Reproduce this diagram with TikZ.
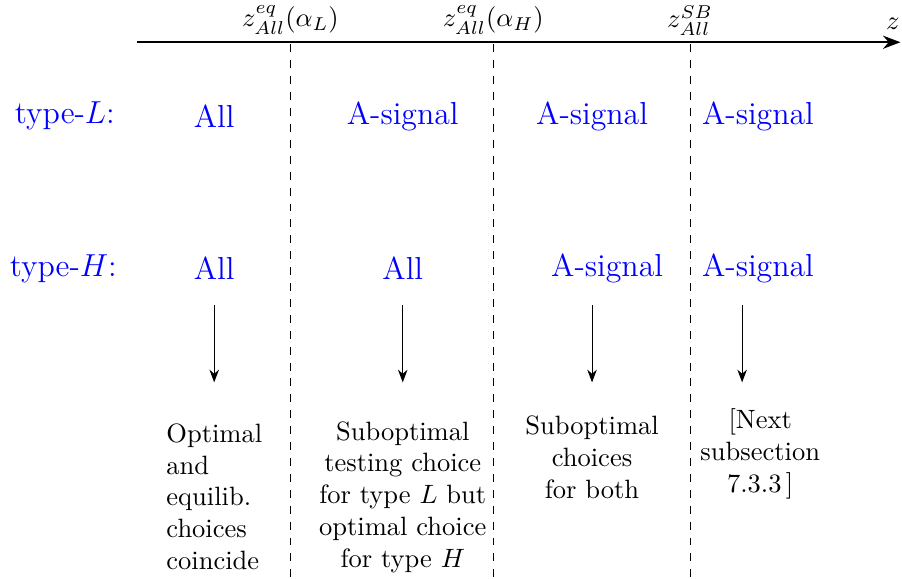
\documentclass[tikz,border=0pt]{standalone}
\usepackage{amsmath}
\usepackage{xcolor}
\usetikzlibrary{arrows.meta,positioning}
\tikzset{
 choice/.style={text=blue,font=\large},
 outcome/.style={anchor=north,align=center,inner sep=0pt},
}
\begin{document}
\begin{tikzpicture}[>=Stealth]
\useasboundingbox (0,0) rectangle (11.96,7.67);
% the axis and its cut-off points
\coordinate (zstart) at (1.82,7.11);
\coordinate (zend) at (11.94,7.11);
\draw[->,thick] (zstart) -- (zend);
\node (zlab) at (11.84,7.36) {$z$};
\foreach \x/\nm/\lbl in {3.85/cL/{z^{eq}_{All}(\alpha_L)},6.54/cH/{z^{eq}_{All}(\alpha_H)},9.15/cS/{z^{SB}_{All}}} {
 \node (\nm) at (\x,7.40) {$\lbl$};
 \coordinate (\nm top) at (\x,7.08);
 \coordinate (\nm bot) at (\x,0);
 \draw[dashed] (\nm top) -- (\nm bot);
}
% the two rows of testing choices
\node[choice] (typeL) at (0.86,6.13) {type-$L$:};
\node[choice] (typeH) at (0.84,4.11) {type-$H$:};
\node[choice] (l1) at (2.84,6.13) {All};
\node[choice] (l2) at (5.34,6.13) {A-signal};
\node[choice] (l3) at (7.85,6.13) {A-signal};
\node[choice] (l4) at (10.05,6.13) {A-signal};
\node[choice] (h1) at (2.84,4.11) {All};
\node[choice] (h2) at (5.34,4.11) {All};
\node[choice] (h3) at (8.05,4.11) {A-signal};
\node[choice] (h4) at (10.05,4.11) {A-signal};
% arrows down to the verdicts
\foreach \x/\nm in {2.84/a1,5.34/a2,7.85/a3,9.84/a4} {
 \coordinate (\nm top) at (\x,3.62);
 \coordinate (\nm bot) at (\x,2.60);
 \draw[->] (\nm top) -- (\nm bot);
}
\node[outcome,anchor=north west,align=left,text width=1.6cm] (o1) at (2.20,2.06) {Optimal and equilib. choices coincide};
\node[outcome,text width=2.3cm] (o2) at (5.34,2.09) {Suboptimal testing choice for type $L$ but optimal choice for type $H$};
\node[outcome,text width=1.9cm] (o3) at (7.85,2.16) {Suboptimal choices for both};
\node[outcome,text width=1.8cm] (o4) at (10.08,2.26) {[Next subsection 7.3.3\,]};
\end{tikzpicture}
\end{document}
